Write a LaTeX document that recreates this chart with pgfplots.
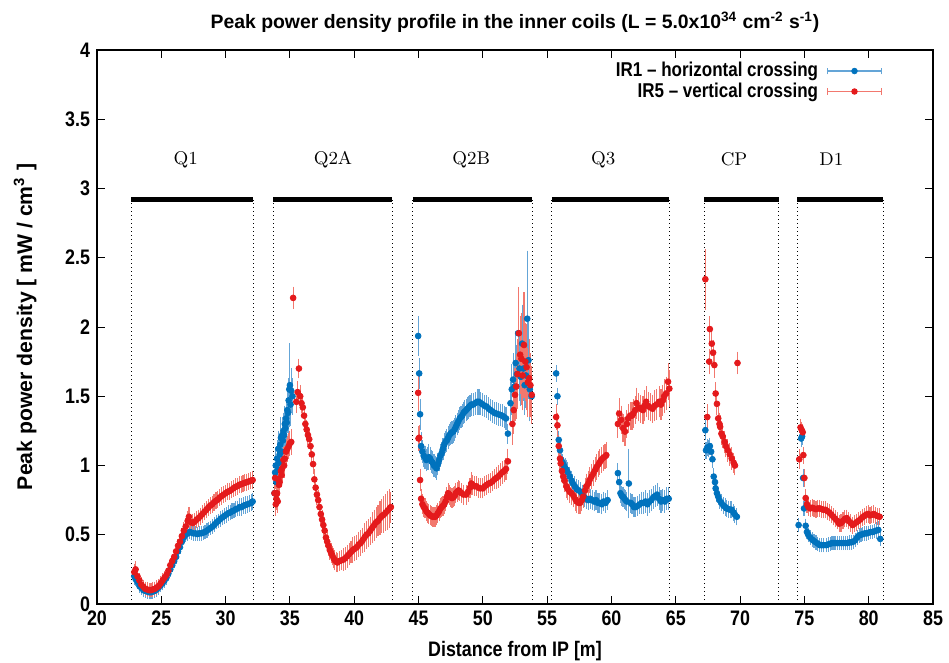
\documentclass[border=0pt]{standalone}
\usepackage{pgfplots}
\pgfplotsset{compat=1.18}
\usepackage{pgfplotstable}
\usepackage{fontspec}
\newfontfamily\cond{Liberation Sans}[FakeStretch=0.85]
\newfontfamily\plain{Liberation Sans}

\definecolor{irblue}{RGB}{0,114,189}
\definecolor{irred}{RGB}{228,26,28}
\definecolor{errblue}{RGB}{100,165,215}
\definecolor{errred}{RGB}{242,120,110}

% IR1 - horizontal crossing: x [m], peak density [mW/cm3], error
\pgfplotstableread{
x y e
22.90 0.20 0.03
23.00 0.18 0.02
23.15 0.16 0.02
23.30 0.13 0.02
23.45 0.115 0.02
23.60 0.10 0.02
23.75 0.095 0.02
23.90 0.09 0.02
24.05 0.085 0.02
24.20 0.085 0.02
24.35 0.09 0.02
24.50 0.095 0.02
24.65 0.105 0.02
24.80 0.12 0.02
24.95 0.135 0.02
25.10 0.15 0.02
25.25 0.17 0.02
25.40 0.19 0.02
25.55 0.22 0.02
25.70 0.25 0.02
25.85 0.28 0.02
26.00 0.31 0.02
26.15 0.34 0.02
26.30 0.38 0.02
26.45 0.41 0.02
26.60 0.45 0.02
26.75 0.48 0.02
26.90 0.50 0.02
27.05 0.51 0.02
27.20 0.52 0.02
27.35 0.515 0.02
27.50 0.51 0.02
27.65 0.51 0.02
27.80 0.505 0.02
27.95 0.51 0.02
28.10 0.51 0.02
28.25 0.515 0.02
28.40 0.52 0.02
28.55 0.53 0.02
28.70 0.54 0.02
28.85 0.55 0.02
29.00 0.56 0.02
29.15 0.575 0.02
29.30 0.59 0.02
29.45 0.60 0.02
29.60 0.615 0.025
29.75 0.625 0.025
29.90 0.635 0.025
30.05 0.645 0.025
30.20 0.655 0.025
30.35 0.66 0.025
30.50 0.67 0.025
30.65 0.675 0.025
30.80 0.685 0.025
30.95 0.69 0.025
31.10 0.70 0.03
31.25 0.70 0.03
31.40 0.71 0.03
31.55 0.715 0.03
31.70 0.72 0.03
31.85 0.725 0.03
32.00 0.73 0.03
32.10 0.74 0.03
33.80 0.80 0.06
33.85 0.95 0.08
33.90 1.00 0.10
33.95 0.88 0.07
34.00 1.05 0.10
34.05 0.97 0.08
34.10 1.12 0.10
34.15 1.02 0.08
34.20 1.08 0.09
34.25 1.15 0.10
34.30 1.20 0.12
34.35 1.10 0.08
34.40 1.22 0.10
34.45 1.18 0.09
34.50 1.25 0.10
34.55 1.22 0.10
34.60 1.30 0.10
34.65 1.27 0.10
34.70 1.34 0.11
34.75 1.31 0.10
34.80 1.40 0.12
34.85 1.38 0.11
34.90 1.47 0.13
34.95 1.55 0.14
35.00 1.58 0.27
35.05 1.44 0.12
35.10 1.54 0.13
35.20 1.50 0.10
44.97 1.935 0.11
45.05 1.665 0.08
45.12 1.37 0.08
45.20 1.14 0.07
45.30 1.10 0.05
45.40 1.07 0.05
45.50 1.06 0.05
45.60 1.04 0.05
45.70 1.05 0.05
45.80 1.06 0.06
45.90 1.05 0.05
46.00 1.03 0.05
46.10 1.02 0.05
46.20 1.00 0.05
46.30 0.99 0.05
46.40 0.98 0.05
46.50 1.01 0.05
46.60 1.04 0.05
46.70 1.07 0.05
46.80 1.09 0.05
46.90 1.12 0.05
47.00 1.15 0.05
47.10 1.17 0.05
47.20 1.18 0.05
47.30 1.20 0.05
47.40 1.22 0.05
47.50 1.23 0.05
47.60 1.24 0.05
47.70 1.245 0.05
47.80 1.26 0.05
47.90 1.28 0.05
48.00 1.30 0.05
48.10 1.32 0.05
48.20 1.34 0.05
48.30 1.35 0.05
48.40 1.36 0.05
48.50 1.38 0.05
48.60 1.39 0.05
48.70 1.40 0.05
48.80 1.41 0.05
48.90 1.42 0.05
49.00 1.43 0.05
49.10 1.44 0.05
49.25 1.44 0.05
49.40 1.45 0.05
49.55 1.46 0.06
49.70 1.46 0.06
49.85 1.45 0.05
50.00 1.44 0.05
50.15 1.43 0.05
50.30 1.425 0.05
50.45 1.41 0.05
50.60 1.40 0.05
50.75 1.39 0.05
50.90 1.38 0.05
51.05 1.375 0.05
51.20 1.37 0.05
51.35 1.365 0.05
51.50 1.36 0.05
51.65 1.35 0.05
51.80 1.34 0.05
51.95 1.23 0.04
52.15 1.45 0.12
52.25 1.55 0.15
52.35 1.62 0.16
52.45 1.57 0.15
52.55 1.74 0.20
52.65 1.66 0.18
52.75 1.955 0.25
52.85 1.70 0.20
52.95 1.64 0.18
53.05 1.88 0.25
53.15 1.70 0.20
53.25 1.58 0.18
53.35 1.65 0.20
53.45 2.06 0.46
53.55 1.76 0.25
53.65 1.55 0.20
53.80 1.50 0.15
55.70 1.665 0.03
55.80 1.50 0.03
55.90 1.185 0.03
56.00 1.11 0.03
56.10 1.04 0.03
56.20 1.02 0.03
56.30 1.00 0.03
56.40 0.98 0.04
56.50 0.97 0.04
56.60 0.95 0.04
56.75 0.92 0.04
56.90 0.89 0.04
57.00 0.87 0.04
57.15 0.85 0.04
57.30 0.83 0.04
57.45 0.82 0.04
57.60 0.81 0.04
57.75 0.79 0.04
57.90 0.77 0.04
58.05 0.76 0.04
58.20 0.75 0.04
58.35 0.76 0.04
58.50 0.75 0.04
58.65 0.74 0.04
58.80 0.75 0.04
58.95 0.73 0.04
59.10 0.73 0.04
59.25 0.72 0.04
59.40 0.74 0.04
59.55 0.73 0.04
59.70 0.75 0.04
60.50 0.945 0.04
60.60 0.88 0.04
60.70 0.80 0.04
60.80 0.78 0.04
60.90 0.775 0.04
61.00 0.76 0.04
61.10 0.75 0.04
61.20 0.74 0.04
61.35 0.87 0.22
61.50 0.73 0.04
61.60 0.72 0.04
61.75 0.70 0.04
61.90 0.70 0.04
62.05 0.71 0.04
62.20 0.72 0.04
62.35 0.73 0.05
62.50 0.73 0.05
62.65 0.74 0.05
62.80 0.72 0.05
62.95 0.74 0.05
63.10 0.75 0.05
63.25 0.77 0.05
63.40 0.78 0.05
63.55 0.79 0.05
63.70 0.76 0.05
63.85 0.74 0.05
64.00 0.75 0.05
64.15 0.74 0.05
64.30 0.76 0.05
64.45 0.76 0.05
67.30 1.255 0.04
67.35 1.11 0.03
67.45 1.13 0.03
67.55 1.12 0.03
67.65 1.14 0.03
67.75 1.10 0.03
67.85 1.045 0.03
67.95 0.92 0.03
68.05 0.88 0.03
68.10 0.835 0.03
68.20 0.80 0.03
68.30 0.775 0.03
68.40 0.75 0.03
68.55 0.73 0.03
68.70 0.71 0.03
68.85 0.70 0.03
68.95 0.69 0.03
69.10 0.685 0.03
69.25 0.68 0.03
69.35 0.68 0.03
69.50 0.66 0.03
69.60 0.645 0.03
69.75 0.63 0.03
74.55 0.57 0.02
74.75 1.195 0.03
74.82 1.21 0.03
74.90 0.91 0.03
74.97 0.69 0.02
75.10 0.565 0.02
75.20 0.52 0.02
75.30 0.50 0.02
75.45 0.48 0.02
75.60 0.465 0.02
75.75 0.455 0.02
75.90 0.445 0.02
76.05 0.435 0.02
76.20 0.425 0.02
76.35 0.425 0.02
76.50 0.425 0.02
76.70 0.425 0.02
76.85 0.43 0.02
77.00 0.435 0.02
77.15 0.44 0.02
77.30 0.44 0.02
77.45 0.44 0.02
77.60 0.44 0.02
77.75 0.44 0.02
77.90 0.44 0.02
78.05 0.44 0.02
78.20 0.44 0.02
78.35 0.44 0.02
78.50 0.445 0.02
78.65 0.445 0.02
78.80 0.45 0.02
78.95 0.46 0.02
79.10 0.48 0.02
79.25 0.495 0.02
79.40 0.50 0.02
79.55 0.505 0.02
79.70 0.51 0.02
79.85 0.51 0.02
80.00 0.515 0.02
80.15 0.52 0.02
80.30 0.52 0.02
80.45 0.525 0.02
80.60 0.53 0.03
80.75 0.535 0.03
80.90 0.47 0.02
}\irone

% IR5 - vertical crossing
\pgfplotstableread{
x y e
22.90 0.23 0.03
23.00 0.25 0.03
23.15 0.20 0.02
23.30 0.17 0.02
23.45 0.14 0.02
23.60 0.125 0.02
23.75 0.11 0.02
23.90 0.105 0.02
24.05 0.10 0.02
24.20 0.10 0.02
24.35 0.105 0.02
24.50 0.11 0.02
24.65 0.12 0.02
24.80 0.13 0.02
24.95 0.15 0.02
25.10 0.17 0.02
25.25 0.19 0.02
25.40 0.21 0.02
25.55 0.24 0.02
25.70 0.28 0.02
25.85 0.31 0.02
26.00 0.34 0.02
26.15 0.38 0.02
26.30 0.42 0.02
26.45 0.45 0.02
26.60 0.49 0.03
26.75 0.53 0.03
26.90 0.56 0.03
27.05 0.60 0.04
27.15 0.63 0.04
27.30 0.59 0.03
27.45 0.585 0.03
27.60 0.595 0.03
27.75 0.61 0.03
27.90 0.62 0.03
28.05 0.635 0.03
28.20 0.65 0.03
28.35 0.665 0.03
28.50 0.68 0.03
28.65 0.695 0.03
28.80 0.71 0.03
28.95 0.72 0.03
29.10 0.735 0.03
29.25 0.745 0.03
29.40 0.755 0.03
29.55 0.77 0.03
29.70 0.78 0.03
29.85 0.79 0.03
30.00 0.80 0.03
30.15 0.81 0.03
30.30 0.815 0.03
30.45 0.825 0.03
30.60 0.835 0.03
30.75 0.845 0.03
30.90 0.85 0.03
31.05 0.86 0.03
31.20 0.865 0.03
31.35 0.87 0.03
31.50 0.875 0.03
31.65 0.88 0.03
31.80 0.885 0.03
31.95 0.89 0.03
32.10 0.895 0.03
33.80 0.80 0.05
33.85 0.91 0.05
33.90 0.72 0.05
33.95 0.76 0.05
34.00 0.80 0.05
34.05 0.74 0.05
34.10 0.90 0.06
34.15 0.86 0.05
34.20 0.88 0.05
34.30 0.96 0.06
34.35 0.93 0.05
34.40 0.98 0.06
34.50 1.04 0.06
34.55 1.00 0.06
34.60 1.05 0.06
34.70 1.10 0.06
34.80 1.12 0.06
34.90 1.14 0.06
35.00 1.16 0.06
35.10 1.17 0.06
35.25 2.21 0.05
35.50 1.46 0.05
35.60 1.53 0.05
35.70 1.70 0.04
35.80 1.50 0.05
35.90 1.45 0.04
36.00 1.42 0.04
36.10 1.36 0.04
36.20 1.30 0.04
36.30 1.26 0.04
36.40 1.22 0.04
36.50 1.19 0.04
36.60 1.14 0.04
36.70 1.08 0.04
36.80 1.01 0.04
36.90 0.90 0.04
37.00 0.84 0.04
37.10 0.79 0.04
37.20 0.75 0.04
37.30 0.70 0.04
37.40 0.65 0.04
37.50 0.61 0.04
37.60 0.57 0.04
37.70 0.53 0.04
37.80 0.48 0.04
37.90 0.45 0.04
38.00 0.42 0.04
38.10 0.39 0.04
38.20 0.37 0.04
38.30 0.35 0.04
38.40 0.33 0.04
38.50 0.315 0.04
38.60 0.305 0.04
38.70 0.30 0.04
38.85 0.31 0.04
39.00 0.315 0.04
39.15 0.32 0.05
39.30 0.33 0.05
39.45 0.345 0.05
39.60 0.36 0.05
39.75 0.375 0.05
39.90 0.39 0.06
40.05 0.40 0.06
40.20 0.41 0.06
40.35 0.43 0.06
40.50 0.44 0.06
40.65 0.46 0.06
40.80 0.48 0.07
40.95 0.50 0.07
41.10 0.51 0.07
41.25 0.53 0.07
41.40 0.55 0.08
41.55 0.57 0.08
41.70 0.59 0.08
41.85 0.60 0.08
42.00 0.62 0.09
42.15 0.635 0.09
42.30 0.645 0.10
42.45 0.66 0.10
42.60 0.675 0.11
42.75 0.69 0.11
42.85 0.70 0.08
44.97 1.525 0.10
45.00 1.195 0.06
45.05 1.20 0.06
45.12 0.895 0.05
45.20 0.76 0.04
45.30 0.72 0.04
45.40 0.70 0.04
45.50 0.69 0.04
45.60 0.67 0.04
45.70 0.66 0.04
45.80 0.65 0.04
45.90 0.64 0.04
46.00 0.635 0.04
46.10 0.63 0.04
46.20 0.63 0.04
46.30 0.63 0.04
46.40 0.64 0.04
46.50 0.655 0.04
46.60 0.67 0.04
46.70 0.69 0.04
46.80 0.70 0.04
46.90 0.71 0.04
47.00 0.72 0.04
47.10 0.74 0.04
47.20 0.77 0.04
47.30 0.80 0.04
47.40 0.79 0.04
47.50 0.77 0.04
47.60 0.765 0.04
47.70 0.77 0.04
47.80 0.78 0.04
47.90 0.80 0.04
48.00 0.81 0.04
48.10 0.82 0.04
48.20 0.815 0.04
48.35 0.80 0.04
48.50 0.79 0.04
48.70 0.79 0.04
48.85 0.81 0.04
49.00 0.84 0.04
49.10 0.87 0.05
49.20 0.86 0.04
49.35 0.85 0.04
49.50 0.85 0.04
49.65 0.84 0.04
49.80 0.835 0.04
50.00 0.835 0.04
50.15 0.85 0.04
50.30 0.86 0.04
50.45 0.87 0.04
50.60 0.875 0.04
50.75 0.885 0.04
50.90 0.90 0.04
51.05 0.91 0.05
51.20 0.92 0.05
51.35 0.935 0.05
51.50 0.95 0.05
51.65 0.96 0.05
51.80 0.975 0.05
51.95 1.03 0.06
52.30 1.30 0.12
52.40 1.40 0.14
52.50 1.51 0.16
52.60 1.57 0.20
52.70 1.66 0.22
52.80 1.955 0.30
52.90 1.80 0.25
53.00 1.77 0.30
53.10 1.65 0.22
53.20 1.87 0.35
53.30 1.75 0.25
53.40 1.71 0.28
53.50 1.60 0.22
53.60 1.63 0.25
53.70 1.58 0.20
53.80 1.51 0.18
55.70 1.35 0.06
55.80 1.29 0.06
55.90 1.14 0.05
56.00 1.05 0.05
56.05 1.015 0.05
56.15 0.96 0.05
56.25 0.92 0.05
56.35 0.89 0.05
56.50 0.85 0.05
56.60 0.83 0.05
56.75 0.81 0.05
56.90 0.80 0.05
57.05 0.78 0.05
57.20 0.755 0.05
57.30 0.74 0.05
57.45 0.73 0.05
57.55 0.73 0.05
57.70 0.75 0.05
57.80 0.775 0.05
57.95 0.82 0.06
58.05 0.85 0.06
58.20 0.87 0.06
58.30 0.895 0.06
58.45 0.92 0.06
58.60 0.945 0.06
58.75 0.97 0.06
58.85 0.99 0.06
59.00 1.01 0.06
59.10 1.025 0.06
59.20 1.04 0.06
59.35 1.055 0.06
59.50 1.065 0.06
59.60 1.075 0.06
60.50 1.30 0.07
60.60 1.375 0.08
60.75 1.33 0.07
60.90 1.27 0.07
61.05 1.245 0.07
61.20 1.30 0.07
61.30 1.34 0.07
61.45 1.36 0.07
61.60 1.36 0.07
61.70 1.375 0.07
61.85 1.40 0.07
61.95 1.45 0.08
62.10 1.42 0.07
62.25 1.41 0.07
62.45 1.40 0.07
62.55 1.43 0.08
62.70 1.46 0.08
62.85 1.43 0.07
63.00 1.42 0.07
63.20 1.41 0.07
63.35 1.43 0.08
63.50 1.44 0.08
63.70 1.46 0.08
63.85 1.44 0.08
64.00 1.47 0.08
64.10 1.50 0.09
64.25 1.52 0.09
64.40 1.605 0.10
64.50 1.555 0.10
67.30 2.345 0.19
67.45 1.35 0.06
67.60 1.75 0.06
67.65 1.985 0.06
67.80 1.88 0.06
67.90 1.815 0.06
68.00 1.725 0.06
68.10 1.52 0.05
68.20 1.445 0.05
68.30 1.34 0.05
68.40 1.30 0.05
68.45 1.28 0.05
68.55 1.23 0.05
68.65 1.21 0.05
68.80 1.17 0.05
68.90 1.14 0.05
69.05 1.11 0.05
69.20 1.08 0.05
69.35 1.05 0.05
69.50 1.02 0.04
69.60 1.00 0.04
69.80 1.74 0.05
74.60 1.045 0.04
74.70 1.275 0.03
74.80 1.255 0.03
74.87 1.24 0.03
74.92 1.075 0.03
75.00 0.91 0.03
75.10 0.765 0.03
75.20 0.72 0.03
75.30 0.70 0.03
75.45 0.69 0.03
75.60 0.695 0.03
75.75 0.69 0.03
75.90 0.685 0.03
76.05 0.69 0.03
76.20 0.69 0.03
76.35 0.685 0.03
76.50 0.68 0.03
76.65 0.68 0.03
76.80 0.67 0.03
76.95 0.66 0.03
77.10 0.645 0.03
77.25 0.63 0.03
77.40 0.615 0.03
77.55 0.60 0.03
77.70 0.58 0.03
77.85 0.585 0.03
78.00 0.60 0.03
78.15 0.615 0.03
78.30 0.62 0.03
78.45 0.60 0.03
78.60 0.585 0.03
78.75 0.57 0.03
78.90 0.58 0.03
79.05 0.59 0.03
79.20 0.60 0.03
79.35 0.61 0.03
79.50 0.625 0.03
79.65 0.635 0.03
79.80 0.645 0.03
79.95 0.65 0.03
80.10 0.64 0.03
80.25 0.645 0.03
80.40 0.65 0.03
80.55 0.64 0.03
80.70 0.635 0.03
80.85 0.63 0.03
}\irfive

\tikzset{
	bound/.style={black, line width=0.5pt, dash pattern=on 0.6pt off 1.4pt},
	magbar/.style={black, line width=2.8pt},
	maglabel/.style={font=\rmfamily\fontsize{9.2}{11}\selectfont},
}

\begin{document}
\begin{tikzpicture}
\begin{axis}[
	name=ax,
	scale only axis,
	width=418pt, height=277pt,
	xmin=20, xmax=85,
	ymin=0, ymax=4,
	xtick={20,25,...,85},
	ytick={0,0.5,...,4},
	tick align=inside,
	major tick length=4pt,
	tick style={black, line width=0.5pt},
	axis line style={line width=0.8pt},
	/pgf/number format/assume math mode=true,
	ticklabel style={font=\cond\bfseries\fontsize{10.5}{12}\selectfont},
	xlabel={Distance from IP [m]},
	xlabel style={font=\cond\bfseries\fontsize{10.5}{12}\selectfont, at={(rel axis cs:0.5,-0.085)}, anchor=center},
	ylabel={Peak power density [ mW / cm\textsuperscript{3} ]},
	ylabel style={font=\plain\bfseries\fontsize{10.6}{12}\selectfont, at={(rel axis cs:-0.086,0.5)}, anchor=center},
	legend style={at={(rel axis cs:0.947,0.993)}, anchor=north east, draw=none, fill=none,
		font=\cond\bfseries\fontsize{10}{12}\selectfont, row sep=-2.5pt},
	legend plot pos=right,
	legend cell align=right,
]

% magnet boundaries
\draw[bound] (axis cs:22.65,0) -- (axis cs:22.65,2.92);
\draw[bound] (axis cs:32.15,0) -- (axis cs:32.15,2.92);
\draw[bound] (axis cs:33.7,0) -- (axis cs:33.7,2.92);
\draw[bound] (axis cs:42.95,0) -- (axis cs:42.95,2.92);
\draw[bound] (axis cs:44.55,0) -- (axis cs:44.55,2.92);
\draw[bound] (axis cs:53.85,0) -- (axis cs:53.85,2.92);
\draw[bound] (axis cs:55.37,0) -- (axis cs:55.37,2.92);
\draw[bound] (axis cs:64.5,0) -- (axis cs:64.5,2.92);
\draw[bound] (axis cs:67.2,0) -- (axis cs:67.2,2.92);
\draw[bound] (axis cs:73.0,0) -- (axis cs:73.0,2.92);
\draw[bound] (axis cs:74.45,0) -- (axis cs:74.45,2.92);
\draw[bound] (axis cs:81.15,0) -- (axis cs:81.15,2.92);
\draw[magbar] (axis cs:22.65,2.92) -- (axis cs:32.15,2.92);
\draw[magbar] (axis cs:33.7,2.92) -- (axis cs:42.95,2.92);
\draw[magbar] (axis cs:44.55,2.92) -- (axis cs:53.85,2.92);
\draw[magbar] (axis cs:55.37,2.92) -- (axis cs:64.5,2.92);
\draw[magbar] (axis cs:67.2,2.92) -- (axis cs:73.0,2.92);
\draw[magbar] (axis cs:74.45,2.92) -- (axis cs:81.15,2.92);
\node[maglabel] at (axis cs:26.9,3.21) {Q1};
\node[maglabel] at (axis cs:38.35,3.21) {Q2A};
\node[maglabel] at (axis cs:49.1,3.21) {Q2B};
\node[maglabel] at (axis cs:59.36,3.21) {Q3};
\node[maglabel] at (axis cs:69.53,3.21) {CP};
\node[maglabel] at (axis cs:77.1,3.21) {D1};

\addplot[forget plot, only marks, mark=*, mark size=1.45pt, color=irblue,
	error bars/.cd, y dir=both, y explicit,
	error bar style={errblue, line width=0.55pt},
	error mark options={errblue, mark size=2.2pt, line width=0.55pt},
] table[x=x, y=y, y error=e] {\irone};

\addplot[forget plot, only marks, mark=*, mark size=1.45pt, color=irred,
	error bars/.cd, y dir=both, y explicit,
	error bar style={errred, line width=0.55pt},
	error mark options={errred, mark size=2.2pt, line width=0.55pt},
] table[x=x, y=y, y error=e] {\irfive};

\addlegendimage{legend image code/.code={
	\path (0pt,0pt);
	\draw[errblue, line width=0.8pt] (2.5pt,0pt) -- (29.5pt,0pt);
	\draw[errblue, line width=0.8pt] (2.5pt,-1.7pt) -- (2.5pt,1.7pt) (29.5pt,-1.7pt) -- (29.5pt,1.7pt);
	\fill[irblue] (16pt,0pt) circle (1.4pt);}}
\addlegendentry{IR1 \textendash{} horizontal crossing}
\addlegendimage{legend image code/.code={
	\path (0pt,0pt);
	\draw[errred, line width=0.8pt] (2.5pt,0pt) -- (29.5pt,0pt);
	\draw[errred, line width=0.8pt] (2.5pt,-1.7pt) -- (2.5pt,1.7pt) (29.5pt,-1.7pt) -- (29.5pt,1.7pt);
	\fill[irred] (16pt,0pt) circle (1.4pt);}}
\addlegendentry{IR5 \textendash{} vertical crossing}

\end{axis}
\node[anchor=base, font=\plain\bfseries\fontsize{9.7}{12}\selectfont] at ([yshift=10.85pt]ax.north)
	{Peak power density profile in the inner coils (L = 5.0x10\textsuperscript{34} cm\textsuperscript{-2} s\textsuperscript{-1})};
\pgfresetboundingbox
\path[use as bounding box] ([xshift=-48.5pt,yshift=-29pt]ax.south west) rectangle ([xshift=8pt,yshift=25pt]ax.north east);
\end{tikzpicture}
\end{document}
